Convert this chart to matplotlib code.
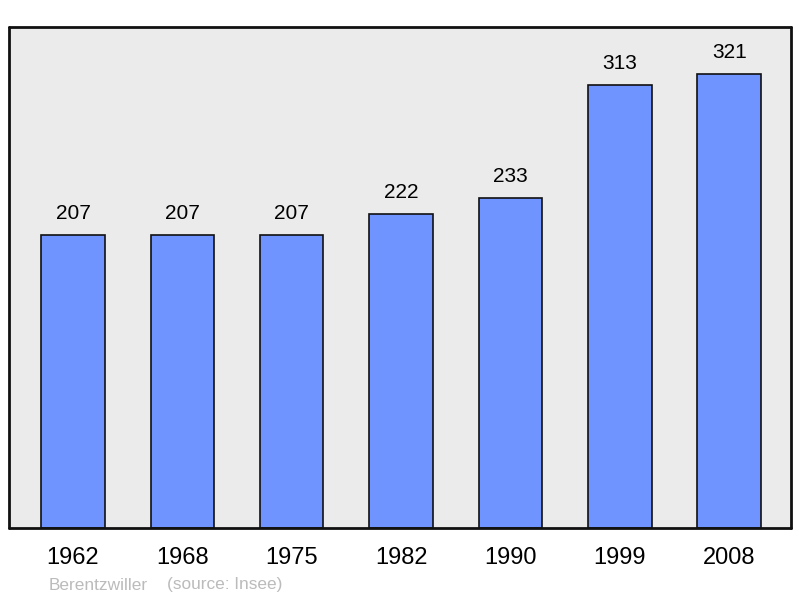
import matplotlib.pyplot as plt
import numpy as np

years = ["1962", "1968", "1975", "1982", "1990", "1999", "2008"]
population = [207, 207, 207, 222, 233, 313, 321]

plt.rcParams['font.family'] = ['Liberation Sans', 'DejaVu Sans']

fig = plt.figure(figsize=(8, 5.98), dpi=100)
ax = fig.add_axes([9 / 800, 70 / 598, 782 / 800, 501 / 598])
ax.set_facecolor('#ebebeb')

x = np.arange(len(years))
ax.bar(x, population, width=0.58, color='#7094ff', edgecolor='#111111', linewidth=1.2, zorder=2)
for xi, v in zip(x, population):
    ax.annotate(str(v), (xi, v), xytext=(0, 8.5), textcoords='offset points',
                ha='center', va='bottom', fontsize=15, color='black')

ax.set_xlim(-0.585, 6.565)
ax.set_ylim(0, 354)
ax.set_yticks([])
ax.set_xticks(x)
ax.set_xticklabels(years, fontsize=17)
ax.tick_params(axis='x', length=0, pad=14)
for s in ax.spines.values():
    s.set_linewidth(2)
    s.set_color('#111111')
    s.set_capstyle('round')
    s.set_joinstyle('round')

fig.text(49 / 800, 1 - 585 / 598, "Berentzwiller", fontsize=12.4, color='#bbbbbb', va='center')
fig.text(167 / 800, 1 - 585 / 598, "(source: Insee)", fontsize=12.4, color='#bbbbbb', va='center')

fig.savefig('out.png', dpi=100)
